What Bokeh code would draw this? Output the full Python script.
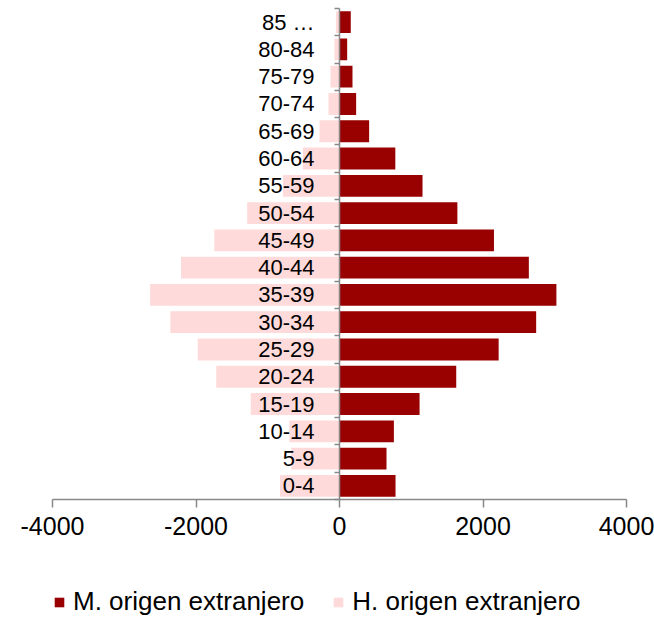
from bokeh.plotting import figure
from bokeh.models import FixedTicker, Legend, LegendItem, Range1d, ColumnDataSource
from bokeh.embed import file_html
from bokeh.resources import INLINE

groups = ["0-4", "5-9", "10-14", "15-19", "20-24", "25-29", "30-34", "35-39", "40-44",
          "45-49", "50-54", "55-59", "60-64", "65-69", "70-74", "75-79", "80-84", "85 …"]
mujeres = [781, 655, 758, 1116, 1627, 2218, 2741, 3023, 2639, 2153, 1643, 1157, 778, 413, 232, 181, 107, 157]
hombres = [829, 671, 699, 1236, 1718, 1976, 2357, 2639, 2208, 1745, 1287, 787, 510, 278, 153, 125, 70, 50]
x_ticks = [-4000, -2000, 0, 2000, 4000]
x_tick_labels = ["-4000", "-2000", "0", "2000", "4000"]

DARK = "#990000"
PINK = "#FFDADA"
GRAY = "#888888"
FONT = "Liberation Sans"

n = len(groups)
idx = list(range(n))
src = ColumnDataSource(dict(y=idx, m=mujeres, h_neg=[-v for v in hombres], zero=[0] * n))

# The frame covers the whole canvas (so nothing gets clipped); the value axis -4000..4000
# occupies pixels 52..626 horizontally and the categories occupy pixels 8..499 vertically.
W, H = 654, 617
AX_LEFT, AX_RIGHT = 52, 626
CAT_TOP, CAT_BOTTOM = 8, 499
xmin, xmax = x_ticks[0], x_ticks[-1]
per_px = (xmax - xmin) / (AX_RIGHT - AX_LEFT)
x_start = xmin - AX_LEFT * per_px
x_end = xmax + (W - AX_RIGHT) * per_px
unit = (CAT_BOTTOM - CAT_TOP) / n
y_start = -0.5 - (H - CAT_BOTTOM) / unit
y_end = n - 0.5 + CAT_TOP / unit

p = figure(width=W, height=H, x_range=Range1d(x_start, x_end), y_range=Range1d(y_start, y_end),
           output_backend="svg", toolbar_location=None,
           min_border_left=0, min_border_right=0, min_border_top=0, min_border_bottom=0)
p.outline_line_color = None
p.grid.visible = False
p.background_fill_color = "white"

r_h = p.hbar(y="y", left="h_neg", right="zero", height=0.8, source=src, fill_color=PINK, line_color=None)
r_m = p.hbar(y="y", left="zero", right="m", height=0.8, source=src, fill_color=DARK, line_color=None)

# x axis, drawn at the bottom of the category area
xa = p.xaxis[0]
xa.fixed_location = -0.5
xa.bounds = (xmin, xmax)
xa.ticker = FixedTicker(ticks=x_ticks)
xa.major_label_overrides = {t: s for t, s in zip(x_ticks, x_tick_labels)}
xa.major_tick_out = 8
xa.major_tick_in = 0
xa.minor_tick_line_color = None
xa.axis_line_color = GRAY
xa.axis_line_width = 1.5
xa.major_tick_line_color = GRAY
xa.major_tick_line_width = 1.5
xa.major_label_text_font = FONT
xa.major_label_text_font_size = "25px"
xa.major_label_text_color = "black"
xa.major_label_standoff = 9

# y axis at x = 0
ya = p.yaxis[0]
ya.fixed_location = 0
ya.bounds = (-0.5, n - 0.5)
ya.ticker = FixedTicker(ticks=idx, minor_ticks=[i - 0.5 for i in range(n + 1)])
ya.major_label_overrides = {i: g for i, g in enumerate(groups)}
ya.major_tick_line_color = None
ya.major_tick_out = 0
ya.major_tick_in = 0
ya.minor_tick_out = 5
ya.minor_tick_in = 0
ya.minor_tick_line_color = GRAY
ya.minor_tick_line_width = 1.5
ya.axis_line_color = GRAY
ya.axis_line_width = 1.5
ya.major_label_text_font = FONT
ya.major_label_text_font_size = "22px"
ya.major_label_text_color = "black"
ya.major_label_standoff = 20

legend = Legend(items=[LegendItem(label="M. origen extranjero", renderers=[r_m]),
                       LegendItem(label="H. origen extranjero", renderers=[r_h])],
                location=(53, 0), orientation="horizontal",
                glyph_width=12, glyph_height=12, label_standoff=8, spacing=28,
                padding=0, margin=0, border_line_color=None, background_fill_alpha=0,
                label_text_font=FONT, label_text_font_size="26px", label_text_color="black")
p.add_layout(legend, "center")

open("out.html", "w").write(file_html(p, INLINE))
